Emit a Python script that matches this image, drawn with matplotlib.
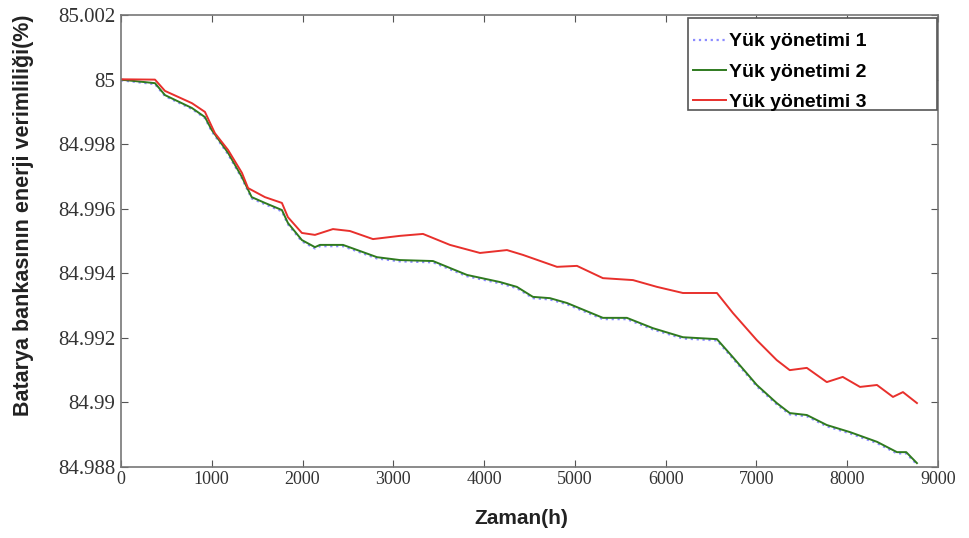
import numpy as np
import matplotlib
matplotlib.use('agg')
import matplotlib.pyplot as plt
from matplotlib.ticker import FuncFormatter
from matplotlib.patches import Rectangle

# values
hours_3 = [0, 375, 485, 782, 925, 1035, 1180, 1333, 1400, 1586, 1773, 1839, 1993,
           2137, 2335, 2522, 2776, 3073, 3327, 3624, 3955, 4252, 4428, 4803, 5023,
           5309, 5640, 5904, 6190, 6565, 6741, 7004, 7224, 7367, 7555, 7775, 7951,
           8141, 8328, 8504, 8614, 8768]
yuk_3 = [85.00001, 85.00000, 84.99965, 84.99927, 84.99900, 84.99834, 84.99782,
         84.99711, 84.99664, 84.99636, 84.99618, 84.99574, 84.99525, 84.99519,
         84.99537, 84.99531, 84.99506, 84.99516, 84.99522, 84.99488, 84.99463,
         84.99472, 84.99457, 84.99420, 84.99423, 84.99385, 84.99379, 84.99358,
         84.99339, 84.99339, 84.99277, 84.99193, 84.99131, 84.99100, 84.99107,
         84.99063, 84.99079, 84.99048, 84.99054, 84.99017, 84.99032, 84.98998]

hours_2 = [0, 375, 485, 782, 925, 1000, 1180, 1333, 1440, 1586, 1773, 1839, 1993,
           2137, 2192, 2446, 2820, 3073, 3437, 3811, 4174, 4361, 4538, 4726, 4913,
           5309, 5573, 5860, 6190, 6565, 6741, 6928, 7004, 7224, 7367, 7555, 7775,
           8031, 8328, 8548, 8650, 8768]
yuk_2 = [85.00000, 84.99989, 84.99952, 84.99912, 84.99884, 84.99844, 84.99773,
         84.99698, 84.99636, 84.99618, 84.99596, 84.99556, 84.99503, 84.99481,
         84.99488, 84.99488, 84.99450, 84.99441, 84.99438, 84.99395, 84.99373,
         84.99358, 84.99327, 84.99323, 84.99308, 84.99262, 84.99262, 84.99230,
         84.99202, 84.99196, 84.99140, 84.99079, 84.99054, 84.98998, 84.98967,
         84.98961, 84.98930, 84.98908, 84.98878, 84.98846, 84.98846, 84.98812]

hours_1 = hours_2
yuk_1 = [84.99998, 84.99986, 84.99949, 84.99909, 84.99881, 84.99840, 84.99769,
         84.99694, 84.99632, 84.99614, 84.99592, 84.99552, 84.99499, 84.99477,
         84.99484, 84.99484, 84.99446, 84.99437, 84.99434, 84.99391, 84.99369,
         84.99354, 84.99323, 84.99319, 84.99304, 84.99258, 84.99258, 84.99226,
         84.99198, 84.99192, 84.99136, 84.99075, 84.99050, 84.98994, 84.98963,
         84.98957, 84.98926, 84.98904, 84.98874, 84.98842, 84.98842, 84.98808]

labels = ["Yük yönetimi 1", "Yük yönetimi 2", "Yük yönetimi 3"]
yticks = [84.988, 84.99, 84.992, 84.994, 84.996, 84.998, 85.0, 85.002]
xticks = [0, 1000, 2000, 3000, 4000, 5000, 6000, 7000, 8000, 9000]

fig = plt.figure(figsize=(9.7, 5.38), dpi=100)
ax = fig.add_axes([0.1247, 0.132, 0.8423, 0.840])

ax.plot(hours_1, yuk_1, color='#8c8cff', linestyle=':', linewidth=1.6, label=labels[0])
ax.plot(hours_2, yuk_2, color='#2f7a1f', linewidth=1.4, label=labels[1])
ax.plot(hours_3, yuk_3, color='#e8302c', linewidth=1.4, label=labels[2])

ax.set_xlim(0, 9000)
ax.set_ylim(84.988, 85.002)
ax.set_xticks(xticks)
ax.set_yticks(yticks)
ax.yaxis.set_major_formatter(FuncFormatter(lambda v, p: '{:g}'.format(round(v, 3))))

ax.tick_params(direction='in', top=True, right=True, length=5, color='#555555',
               labelcolor='#333333')
ax.tick_params(axis='y', labelsize=15, pad=4)
ax.tick_params(axis='x', labelsize=13, pad=3)
for lab in ax.get_xticklabels() + ax.get_yticklabels():
    lab.set_fontfamily('Liberation Serif')
for s in ax.spines.values():
    s.set_color('#777777')
    s.set_linewidth(1.2)

ax.set_xlabel("Zaman(h)", fontsize=15, fontweight='bold',
              family='Liberation Sans', color='#222222')
ax.xaxis.set_label_coords(0.49, -0.093)
ax.set_ylabel("Batarya bankasının enerji verimliliği(%)", fontsize=15.5,
              fontweight='bold', family='Liberation Sans', color='#222222')
ax.yaxis.set_label_coords(-0.107, 0.557)

# legend frame as drawn in the reference (wider than the text)
ax.add_patch(Rectangle((0.694, 0.790), 0.3048, 0.203, transform=ax.transAxes,
                       facecolor='white', edgecolor='#555555', linewidth=1.2, zorder=4))
leg = ax.legend(loc='upper left', bbox_to_anchor=(0.682, 0.993),
                prop={'family': 'Liberation Sans', 'weight': 'bold', 'size': 14},
                frameon=False, borderaxespad=0.0, handlelength=1.7,
                handletextpad=0.15, labelspacing=0.65, borderpad=0.75)
leg.set_zorder(5)

fig.savefig("out.png", dpi=100)
